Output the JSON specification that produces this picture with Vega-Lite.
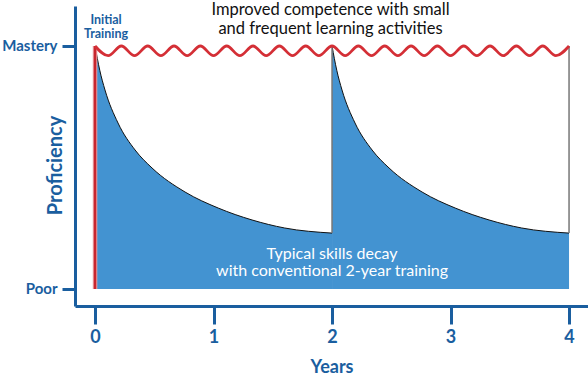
{
  "$schema": "https://vega.github.io/schema/vega-lite/v6.json",
  "width": 513,
  "height": 300,
  "autosize": "none",
  "padding": {"left": 75, "top": 6, "right": 0, "bottom": 72},
  "background": "white",
  "config": {"view": {"stroke": null}, "font": "Lato"},
  "datasets": {
    "decay": [
      {"seg": 1, "t": 0, "p": 100}, {"seg": 1, "t": 0.04, "p": 90}, {"seg": 1, "t": 0.084, "p": 81.9}, {"seg": 1, "t": 0.194, "p": 68.3},
      {"seg": 1, "t": 0.338, "p": 57.2}, {"seg": 1, "t": 0.481, "p": 49.8}, {"seg": 1, "t": 0.76, "p": 39.9}, {"seg": 1, "t": 1.04, "p": 33.3},
      {"seg": 1, "t": 1.325, "p": 28.4}, {"seg": 1, "t": 1.6, "p": 25.1}, {"seg": 1, "t": 2.0, "p": 23.0},
      {"seg": 2, "t": 2, "p": 100}, {"seg": 2, "t": 2.04, "p": 90}, {"seg": 2, "t": 2.084, "p": 81.9}, {"seg": 2, "t": 2.194, "p": 68.3},
      {"seg": 2, "t": 2.338, "p": 57.2}, {"seg": 2, "t": 2.481, "p": 49.8}, {"seg": 2, "t": 2.76, "p": 39.9}, {"seg": 2, "t": 3.04, "p": 33.3},
      {"seg": 2, "t": 3.325, "p": 28.4}, {"seg": 2, "t": 3.6, "p": 25.1}, {"seg": 2, "t": 4.0, "p": 23.0}
    ],
    "wave": [
      {"t": 0, "p": 100}, {"t": 0.1111, "p": 96}, {"t": 0.2222, "p": 100}, {"t": 0.3333, "p": 96}, {"t": 0.4444, "p": 100},
      {"t": 0.5556, "p": 96}, {"t": 0.6667, "p": 100}, {"t": 0.7778, "p": 96}, {"t": 0.8889, "p": 100}, {"t": 1.0, "p": 96},
      {"t": 1.1111, "p": 100}, {"t": 1.2222, "p": 96}, {"t": 1.3333, "p": 100}, {"t": 1.4444, "p": 96}, {"t": 1.5556, "p": 100},
      {"t": 1.6667, "p": 96}, {"t": 1.7778, "p": 100}, {"t": 1.8889, "p": 96}, {"t": 2.0, "p": 100}, {"t": 2.1111, "p": 96},
      {"t": 2.2222, "p": 100}, {"t": 2.3333, "p": 96}, {"t": 2.4444, "p": 100}, {"t": 2.5556, "p": 96}, {"t": 2.6667, "p": 100},
      {"t": 2.7778, "p": 96}, {"t": 2.8889, "p": 100}, {"t": 3.0, "p": 96}, {"t": 3.1111, "p": 100}, {"t": 3.2222, "p": 96},
      {"t": 3.3333, "p": 100}, {"t": 3.4444, "p": 96}, {"t": 3.5556, "p": 100}, {"t": 3.6667, "p": 96}, {"t": 3.7778, "p": 100},
      {"t": 3.8889, "p": 96}, {"t": 4.0, "p": 100}
    ],
    "jumps": [{"t": 2, "p": 23, "p2": 100}, {"t": 4, "p": 23, "p2": 100}],
    "training": [{"t": 0, "p": 0, "p2": 100}]
  },
  "encoding": {
    "x": {
      "field": "t", "type": "quantitative",
      "scale": {"domain": [-0.169, 4.16], "nice": false, "zero": false},
      "axis": {
        "values": [0, 1, 2, 3, 4], "format": "d", "grid": false,
        "domainColor": "#1a5e9f", "domainWidth": 3, "tickColor": "#1a5e9f", "tickWidth": 3, "tickSize": 18,
        "labelColor": "#1a5e9f", "labelFontSize": 18, "labelFontWeight": "bold", "labelPadding": 4, "labelFont": "Lato",
        "title": "Years", "titleColor": "#1a5e9f", "titleFontSize": 18, "titleFontWeight": "bold", "titleFont": "Lato",
        "titleY": 61, "titleBaseline": "middle"
      }
    },
    "y": {
      "field": "p", "type": "quantitative",
      "scale": {"domain": [-7, 116.46], "nice": false, "zero": false},
      "axis": {
        "values": [0, 100], "labelExpr": "datum.value == 0 ? 'Poor' : 'Mastery'", "grid": false,
        "domainColor": "#1a5e9f", "domainWidth": 3, "tickColor": "#1a5e9f", "tickWidth": 3, "tickSize": 13,
        "labelColor": "#1a5e9f", "labelFontSize": 15, "labelFontWeight": "bold", "labelPadding": 5, "labelFont": "Lato",
        "title": "Proficiency", "titleColor": "#1a5e9f", "titleFontSize": 20, "titleFontWeight": "bold", "titleFont": "Lato",
        "titleX": -20, "titleY": 159, "titleAngle": -90, "titleAlign": "center", "titleBaseline": "middle"
      }
    }
  },
  "layer": [
    {
      "data": {"name": "decay"},
      "mark": {"type": "area", "interpolate": "monotone", "color": "#4393d1"},
      "encoding": {"y2": {"datum": 0}, "detail": {"field": "seg"}}
    },
    {
      "data": {"name": "decay"},
      "mark": {"type": "line", "interpolate": "monotone", "color": "#111111", "strokeWidth": 1},
      "encoding": {"detail": {"field": "seg"}}
    },
    {
      "data": {"name": "jumps"},
      "mark": {"type": "rule", "color": "#777777", "strokeWidth": 1.5},
      "encoding": {"y2": {"field": "p2"}}
    },
    {
      "data": {"name": "training"},
      "mark": {"type": "rule", "color": "#e8a0a4", "strokeWidth": 4.5},
      "encoding": {"y2": {"field": "p2"}}
    },
    {
      "data": {"name": "training"},
      "mark": {"type": "rule", "color": "#c8262e", "strokeWidth": 2.5},
      "encoding": {"y2": {"field": "p2"}}
    },
    {
      "data": {"name": "wave"},
      "mark": {"type": "line", "interpolate": "monotone", "color": "#d42f36", "strokeWidth": 2.8},
      "encoding": {}
    },
    {
      "data": {"values": [{"t": 0.093, "p": 110.6, "txt": "Initial"}, {"t": 0.093, "p": 104.9, "txt": "Training"}]},
      "mark": {"type": "text", "color": "#1a5e9f", "fontSize": 12.5, "fontWeight": "bold", "font": "Lato", "align": "center", "baseline": "middle"},
      "encoding": {"text": {"field": "txt"}}
    },
    {
      "data": {"values": [{"t": 1.987, "p": 115.0, "txt": "Improved competence with small"}, {"t": 1.987, "p": 107.2, "txt": "and frequent learning activities"}]},
      "mark": {"type": "text", "color": "#111111", "fontSize": 16.5, "font": "Lato", "align": "center", "baseline": "middle"},
      "encoding": {"text": {"field": "txt"}}
    },
    {
      "data": {"values": [{"t": 2.0, "p": 14.6, "txt": "Typical skills decay"}, {"t": 2.0, "p": 7.4, "txt": "with conventional 2-year training"}]},
      "mark": {"type": "text", "color": "white", "fontSize": 16, "font": "Lato", "align": "center", "baseline": "middle"},
      "encoding": {"text": {"field": "txt"}}
    }
  ]
}
